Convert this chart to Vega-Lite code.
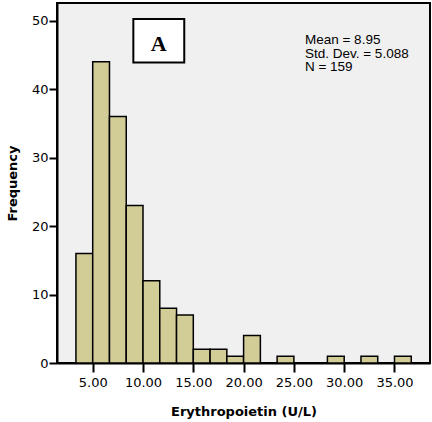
{
  "$schema": "https://vega.github.io/schema/vega-lite/v6.json",
  "width": 373,
  "height": 360,
  "autosize": {"type": "none"},
  "padding": {"left": 57, "top": 3, "right": 2, "bottom": 59},
  "background": "#ffffff",
  "config": {
    "view": {"fill": "#f0f0f0", "stroke": "#000000", "strokeWidth": 2},
    "axis": {
      "grid": false,
      "domainColor": "#000000",
      "domainWidth": 2,
      "tickColor": "#000000",
      "tickWidth": 2,
      "labelFont": "DejaVu Sans",
      "labelFontSize": 13,
      "labelColor": "#000000",
      "titleFont": "DejaVu Sans",
      "titleFontSize": 13,
      "titleFontWeight": "bold",
      "titleColor": "#000000"
    }
  },
  "data": {
    "values": [
      {"bin_start": 3.333, "bin_end": 5.0, "count": 16},
      {"bin_start": 5.0, "bin_end": 6.667, "count": 44},
      {"bin_start": 6.667, "bin_end": 8.333, "count": 36},
      {"bin_start": 8.333, "bin_end": 10.0, "count": 23},
      {"bin_start": 10.0, "bin_end": 11.667, "count": 12},
      {"bin_start": 11.667, "bin_end": 13.333, "count": 8},
      {"bin_start": 13.333, "bin_end": 15.0, "count": 7},
      {"bin_start": 15.0, "bin_end": 16.667, "count": 2},
      {"bin_start": 16.667, "bin_end": 18.333, "count": 2},
      {"bin_start": 18.333, "bin_end": 20.0, "count": 1},
      {"bin_start": 20.0, "bin_end": 21.667, "count": 4},
      {"bin_start": 23.333, "bin_end": 25.0, "count": 1},
      {"bin_start": 28.333, "bin_end": 30.0, "count": 1},
      {"bin_start": 31.667, "bin_end": 33.333, "count": 1},
      {"bin_start": 35.0, "bin_end": 36.667, "count": 1}
    ]
  },
  "layer": [
    {
      "mark": {"type": "rect", "fill": "#d2cd97", "stroke": "#000000", "strokeWidth": 1.5},
      "encoding": {
        "x": {
          "field": "bin_start",
          "type": "quantitative",
          "scale": {"domain": [1.45, 38.53], "nice": false, "zero": false},
          "axis": {
            "values": [5, 10, 15, 20, 25, 30, 35],
            "format": ".2f",
            "tickSize": 9,
            "labelPadding": 4,
            "title": "Erythropoietin (U/L)",
            "titleBaseline": "alphabetic",
            "titleY": 52
          }
        },
        "x2": {"field": "bin_end"},
        "y": {
          "field": "count",
          "type": "quantitative",
          "scale": {"domain": [0, 52.6], "nice": false},
          "axis": {
            "values": [0, 10, 20, 30, 40, 50],
            "format": "d",
            "tickSize": 8,
            "labelPadding": 1,
            "title": "Frequency",
            "titleBaseline": "alphabetic",
            "titleX": -41
          }
        },
        "y2": {"datum": 0}
      }
    },
    {
      "data": {"values": [{"label": "A"}]},
      "mark": {"type": "rect", "fill": "#ffffff", "stroke": "#000000", "strokeWidth": 2},
      "encoding": {
        "x": {"datum": 9.04, "type": "quantitative"},
        "x2": {"datum": 14.1},
        "y": {"datum": 43.9, "type": "quantitative"},
        "y2": {"datum": 50.25}
      }
    },
    {
      "data": {"values": [{"label": "A"}]},
      "mark": {"type": "text", "font": "Liberation Serif", "fontWeight": "bold", "fontSize": 22, "align": "center", "baseline": "middle", "color": "#000000"},
      "encoding": {
        "x": {"datum": 11.57, "type": "quantitative"},
        "y": {"datum": 46.6, "type": "quantitative"},
        "text": {"field": "label"}
      }
    },
    {
      "data": {"values": [{"stats": ["Mean = 8.95", "Std. Dev. = 5.088", "N = 159"]}]},
      "mark": {"type": "text", "font": "Liberation Sans", "fontSize": 13.5, "lineHeight": 13.6, "align": "left", "baseline": "alphabetic", "color": "#000000"},
      "encoding": {
        "x": {"datum": 26.1, "type": "quantitative"},
        "y": {"datum": 46.6, "type": "quantitative"},
        "text": {"field": "stats"}
      }
    }
  ]
}
